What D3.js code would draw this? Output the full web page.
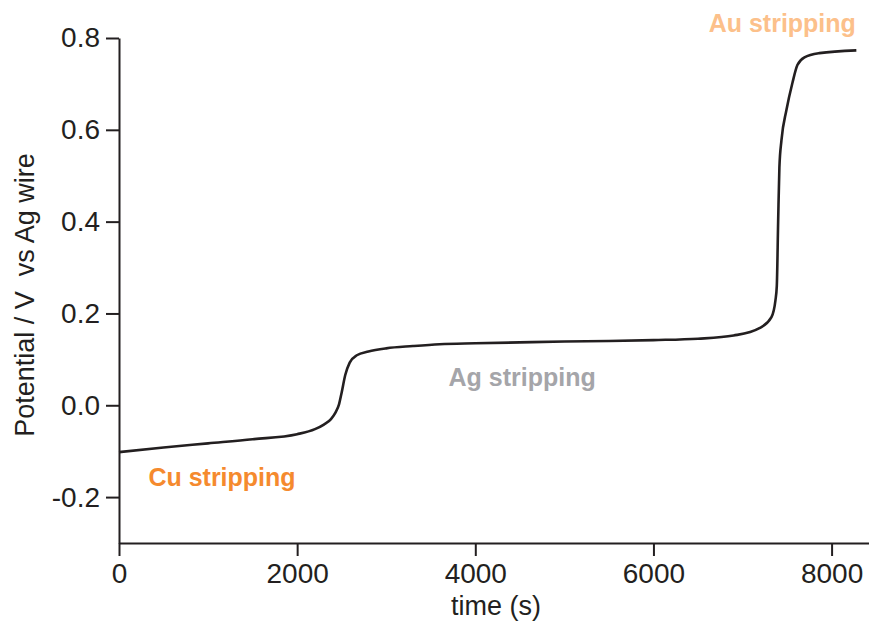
<!DOCTYPE html>
<html>
<head>
<meta charset="utf-8">
<script src="https://cdn.jsdelivr.net/npm/d3@7"></script>
<style>
  body { margin: 0; background: #fff; }
  svg { display: block; font-family: "Liberation Sans", Arial, sans-serif; }
</style>
</head>
<body>
<svg id="chart" width="869" height="627"></svg>
<script>
// stripping chronopotentiogram
const time = [0, 500, 1000, 1500, 2000, 2200, 2300, 2380, 2430, 2470, 2500, 2540, 2590, 2670, 2800, 3000, 3300, 3600, 4000, 4500, 5000, 5500, 6000, 6500, 6900, 7190, 7325, 7370, 7385, 7400, 7414, 7437, 7493, 7560, 7616, 7695, 7863, 8278];
const potential = [-0.102, -0.092, -0.083, -0.074, -0.063, -0.052, -0.042, -0.030, -0.016, 0.002, 0.028, 0.066, 0.093, 0.109, 0.117, 0.124, 0.129, 0.133, 0.135, 0.137, 0.139, 0.140, 0.142, 0.145, 0.152, 0.168, 0.192, 0.229, 0.26, 0.40, 0.518, 0.577, 0.643, 0.702, 0.741, 0.758, 0.767, 0.773];

const xTicks = [0, 2000, 4000, 6000, 8000];
const yTicks = [-0.2, 0, 0.2, 0.4, 0.6, 0.8];

const labels = [
  { text: "Cu stripping", t: 330, v: -0.176, color: "#f58a2e" },
  { text: "Ag stripping", t: 3700, v: 0.042, color: "#a5a5a9" },
  { text: "Au stripping", t: 6620, v: 0.813, color: "#fcc08a" }
];

const data = time.map((t, i) => ({ t: t, v: potential[i] }));

const svg = d3.select("#chart");

const x = d3.scaleLinear().domain([0, 8420]).range([119, 869]);
const y = d3.scaleLinear().domain([-0.3, 0.8]).range([543, 38]);

const ink = "#231f20";

// x axis
const gx = svg.append("g")
  .attr("transform", "translate(0,543)")
  .call(d3.axisBottom(x).tickValues(xTicks).tickSize(13).tickSizeOuter(0).tickPadding(7).tickFormat(d3.format("d")));

// y axis
const gy = svg.append("g")
  .attr("transform", "translate(119,0)")
  .call(d3.axisLeft(y).tickValues(yTicks).tickSize(13).tickSizeOuter(0).tickPadding(6).tickFormat(d => d.toFixed(1)));

[gx, gy].forEach(g => {
  g.select(".domain").attr("stroke", ink).attr("stroke-width", 2);
  g.selectAll(".tick line").attr("stroke", ink).attr("stroke-width", 2);
  g.selectAll(".tick text")
    .attr("fill", ink)
    .style("font-size", "28px")
    .style("font-family", "'Liberation Sans', Arial, sans-serif");
});

// axis titles
svg.append("text")
  .attr("x", 496).attr("y", 615)
  .attr("text-anchor", "middle")
  .attr("fill", ink)
  .style("font-size", "27px")
  .text("time (s)");

svg.append("text")
  .attr("transform", "translate(34,295) rotate(-90)")
  .attr("text-anchor", "middle")
  .attr("fill", ink)
  .style("font-size", "27px")
  .style("white-space", "pre")
  .text("Potential / V  vs Ag wire");

// curve
const line = d3.line()
  .x(d => x(d.t))
  .y(d => y(d.v))
  .curve(d3.curveMonotoneX);

svg.append("path")
  .datum(data)
  .attr("fill", "none")
  .attr("stroke", ink)
  .attr("stroke-width", 2.6)
  .attr("d", line);

// region labels
svg.selectAll(".lab")
  .data(labels)
  .enter()
  .append("text")
  .attr("class", "lab")
  .attr("x", d => x(d.t))
  .attr("y", d => y(d.v))
  .attr("fill", d => d.color)
  .style("font-size", "25px")
  .style("font-weight", "bold")
  .text(d => d.text);
</script>
</body>
</html>
